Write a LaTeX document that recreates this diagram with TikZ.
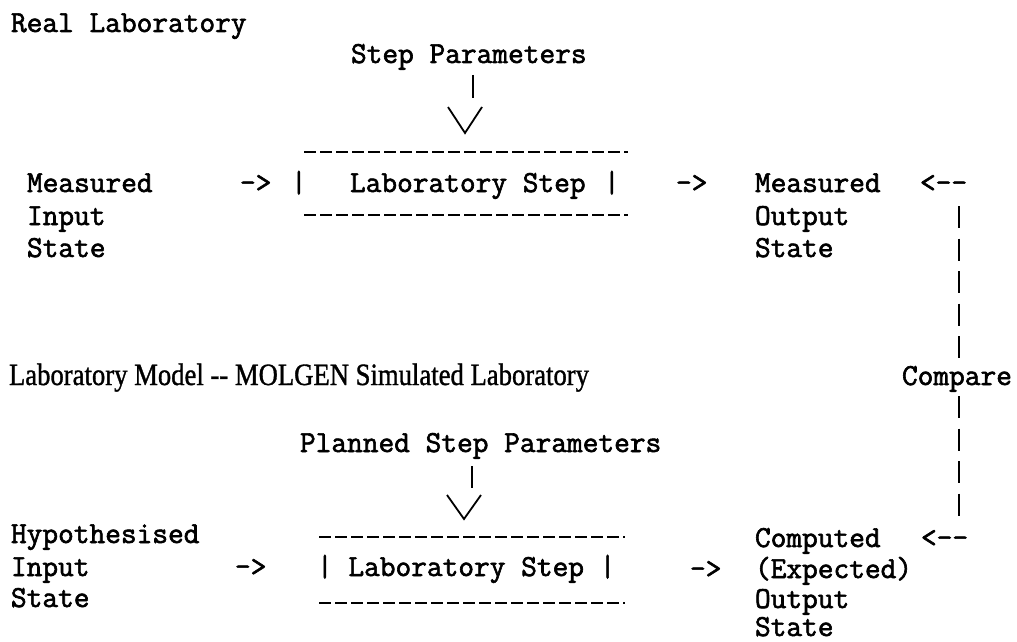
\documentclass[tikz,border=0pt]{standalone}
\usepackage{fontspec}
\usepackage{graphicx}
\setmonofont{Latin Modern Mono}[FakeBold=2]
\newfontfamily\condfont{Liberation Serif}[FakeBold=1.2]
\newcommand\fitw[2]{\resizebox{#1}{\height}{#2}}
\begin{document}
\begin{tikzpicture}[x=1pt,y=-1pt,
  txt/.style={inner sep=0pt, outer sep=0pt, anchor=base west,
    font=\ttfamily\fontsize{30.5}{33}\selectfont},
  cond/.style={inner sep=0pt, outer sep=0pt, anchor=base west,
    font=\condfont\fontsize{31}{33}\selectfont},
  dashrule/.style={line width=2.8pt, dash pattern=on 12pt off 4pt},
  vbar/.style={line width=2.2pt, dash pattern=on 22pt off 10.5pt},
  shaft/.style={line width=2.2pt},
  vhead/.style={line width=1.8pt}]
\useasboundingbox[fill=white] (0,0) rectangle (1017,642);

% ---------- Real laboratory ----------
\node[txt] (real) at (11,32) {Real Laboratory};
\node[txt] (sp) at (351,63) {Step Parameters};
\coordinate (s1a) at (473,75);
\coordinate (s1b) at (473,98);
\draw[shaft] (s1a) -- (s1b);
\coordinate (v1l) at (448,107);
\coordinate (v1t) at (465,133);
\coordinate (v1r) at (482,107);
\draw[vhead] (v1l) -- (v1t) -- (v1r);

\coordinate (b1tl) at (304,152);
\coordinate (b1tr) at (628,152);
\coordinate (b1bl) at (304,215);
\coordinate (b1br) at (628,215);
\draw[dashrule] (b1tl) -- (b1tr);
\draw[dashrule] (b1bl) -- (b1br);

\node[txt] (m1) at (27,192) {Measured};
\node[txt] (m2) at (27,225) {Input};
\node[txt] (m3) at (27,257) {State};
\node[txt] (a1) at (240,192) {->};
\node[txt] (bar1) at (291,192) {|};
\node[txt] (ls1) at (350,192) {Laboratory Step};
\node[txt] (bar2) at (604,192) {|};
\node[txt] (a2) at (676,192) {->};
\node[txt] (o1) at (755,192) {Measured};
\node[txt] (o2) at (755,225) {Output};
\node[txt] (o3) at (755,257) {State};
\node[txt] (la1) at (920,192) {<--};

% ---------- Compare ----------
\node[cond] (lm) at (9,385) {\fitw{580pt}{Laboratory Model -- MOLGEN Simulated Laboratory}};
\node[txt] (cmp) at (902,385) {Compare};
\coordinate (c1a) at (959,206);
\coordinate (c1b) at (959,364);
\coordinate (c2a) at (959,396);
\coordinate (c2b) at (959,520);
\draw[vbar] (c1a) -- (c1b);
\draw[vbar] (c2a) -- (c2b);

% ---------- Model ----------
\node[txt] (psp) at (300,452) {Planned Step Parameters};
\coordinate (s2a) at (472,466);
\coordinate (s2b) at (472,488);
\draw[shaft] (s2a) -- (s2b);
\coordinate (v2l) at (447,495);
\coordinate (v2t) at (464,519);
\coordinate (v2r) at (481,495);
\draw[vhead] (v2l) -- (v2t) -- (v2r);

\coordinate (b2tl) at (319,537);
\coordinate (b2tr) at (625,537);
\coordinate (b2bl) at (319,603);
\coordinate (b2br) at (625,603);
\draw[dashrule] (b2tl) -- (b2tr);
\draw[dashrule] (b2bl) -- (b2br);

\node[txt] (h1) at (11,543) {Hypothesised};
\node[txt] (h2) at (11,576) {Input};
\node[txt] (h3) at (11,607) {State};
\node[txt] (a3) at (235,576) {->};
\node[txt] (ls2) at (317,576) {| Laboratory Step |};
\node[txt] (a4) at (690,578) {->};
\node[txt] (e1) at (755,547) {Computed};
\node[txt] (la2) at (921,547) {<--};
\node[txt] (e2) at (755,578) {(Expected)};
\node[txt] (e3) at (755,608) {Output};
\node[txt] (e4) at (755,636) {State};
\end{tikzpicture}
\end{document}
